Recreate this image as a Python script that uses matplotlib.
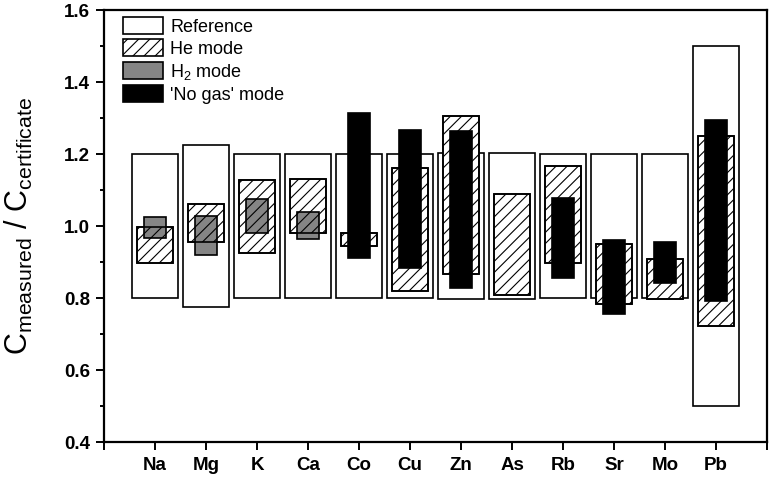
import matplotlib
matplotlib.use("Agg")
import matplotlib.pyplot as plt
from matplotlib.ticker import MultipleLocator, FormatStrFormatter
import numpy as np

plt.rcParams['font.family'] = ['Liberation Sans', 'DejaVu Sans']
plt.rcParams['mathtext.fontset'] = 'custom'
plt.rcParams['mathtext.rm'] = 'Liberation Sans'
plt.rcParams['mathtext.it'] = 'Liberation Sans:italic'
plt.rcParams['mathtext.bf'] = 'Liberation Sans:bold'
plt.rcParams['hatch.linewidth'] = 0.8

elements = ['Na', 'Mg', 'K', 'Ca', 'Co', 'Cu', 'Zn', 'As', 'Rb', 'Sr', 'Mo', 'Pb']

ref_low  = [0.80, 0.776, 0.80, 0.80, 0.80, 0.80, 0.797, 0.797, 0.80, 0.80, 0.80, 0.50]
ref_high = [1.20, 1.225, 1.20, 1.20, 1.20, 1.20, 1.203, 1.204, 1.20, 1.20, 1.20, 1.50]

he_low  = [0.898, 0.956, 0.926, 0.981, 0.944, 0.819, 0.867, 0.808, 0.897, 0.782, 0.796, 0.722]
he_high = [0.997, 1.060, 1.128, 1.131, 0.981, 1.162, 1.306, 1.090, 1.166, 0.951, 0.907, 1.251]

h2_elements = ['Na', 'Mg', 'K', 'Ca']
h2_low  = [0.966, 0.920, 0.981, 0.963]
h2_high = [1.024, 1.029, 1.075, 1.038]

nogas_elements = ['Co', 'Cu', 'Zn', 'Rb', 'Sr', 'Mo', 'Pb']
nogas_low  = [0.910, 0.883, 0.829, 0.855, 0.756, 0.843, 0.792]
nogas_high = [1.315, 1.267, 1.265, 1.078, 0.960, 0.956, 1.294]

yticks = [0.4, 0.6, 0.8, 1.0, 1.2, 1.4, 1.6]

fig = plt.figure(figsize=(7.7, 4.78), dpi=100)
ax = fig.add_axes([104/770, 1 - 442/478, (767 - 104)/770, (442 - 10)/478])

pos = {e: i for i, e in enumerate(elements)}
x_all = np.arange(len(elements))
x_h2 = np.array([pos[e] for e in h2_elements])
x_ng = np.array([pos[e] for e in nogas_elements])

def span(lo, hi):
    lo = np.array(lo); hi = np.array(hi)
    return hi - lo, lo

lw = 1.2
h, b = span(ref_low, ref_high)
ax.bar(x_all, h, bottom=b, width=0.9, facecolor='white', edgecolor='black',
       linewidth=lw, zorder=1, label='Reference')
h, b = span(he_low, he_high)
ax.bar(x_all, h, bottom=b, width=0.7, facecolor='white', edgecolor='black',
       linewidth=lw, zorder=2)
h2h, h2b = span(h2_low, h2_high)
ax.bar(x_h2, h2h, bottom=h2b, width=0.42, facecolor='#858585', edgecolor='black',
       linewidth=lw, zorder=3, label=r'H$_2$ mode')
ax.bar(x_all, h, bottom=b, width=0.7, facecolor='none', edgecolor='black',
       hatch='///', linewidth=lw, zorder=4, label='He mode')
h, b = span(nogas_low, nogas_high)
ax.bar(x_ng, h, bottom=b, width=0.42, facecolor='black', edgecolor='black',
       linewidth=lw, zorder=5, label="'No gas' mode")

ax.set_xlim(-1, 12)
ax.set_ylim(0.4, 1.6)
ax.set_xticks(np.arange(-1, 13))
ax.set_xticklabels([''] + elements + [''])
ax.set_yticks(yticks)
ax.yaxis.set_minor_locator(MultipleLocator(0.1))
ax.yaxis.set_major_formatter(FormatStrFormatter('%.1f'))

for s in ax.spines.values():
    s.set_linewidth(1.6)

ax.tick_params(axis='both', which='major', direction='out', length=6, width=1.4,
               labelsize=13.5)
ax.tick_params(axis='y', which='minor', direction='out', length=3, width=1.4)
ax.tick_params(axis='x', which='minor', bottom=False)
ax.tick_params(axis='x', pad=5)
ax.tick_params(axis='y', pad=4)
for lab in ax.get_xticklabels() + ax.get_yticklabels():
    lab.set_fontweight('bold')

ax.set_ylabel(r'$\mathrm{C_{measured}\ /\ C_{certificate}}$', fontsize=22)
ax.yaxis.set_label_coords(-0.104, 0.5)

handles, labels = ax.get_legend_handles_labels()
order = ['Reference', 'He mode', r'H$_2$ mode', "'No gas' mode"]
hd = dict(zip(labels, handles))
leg = ax.legend([hd[k] for k in order], order, loc='upper left',
                bbox_to_anchor=(0.029, 0.983), frameon=False, fontsize=13,
                handlelength=2.2, handleheight=1.05, handletextpad=0.4,
                labelspacing=0.2, borderpad=0, borderaxespad=0)

fig.savefig('out.png', dpi=100)
